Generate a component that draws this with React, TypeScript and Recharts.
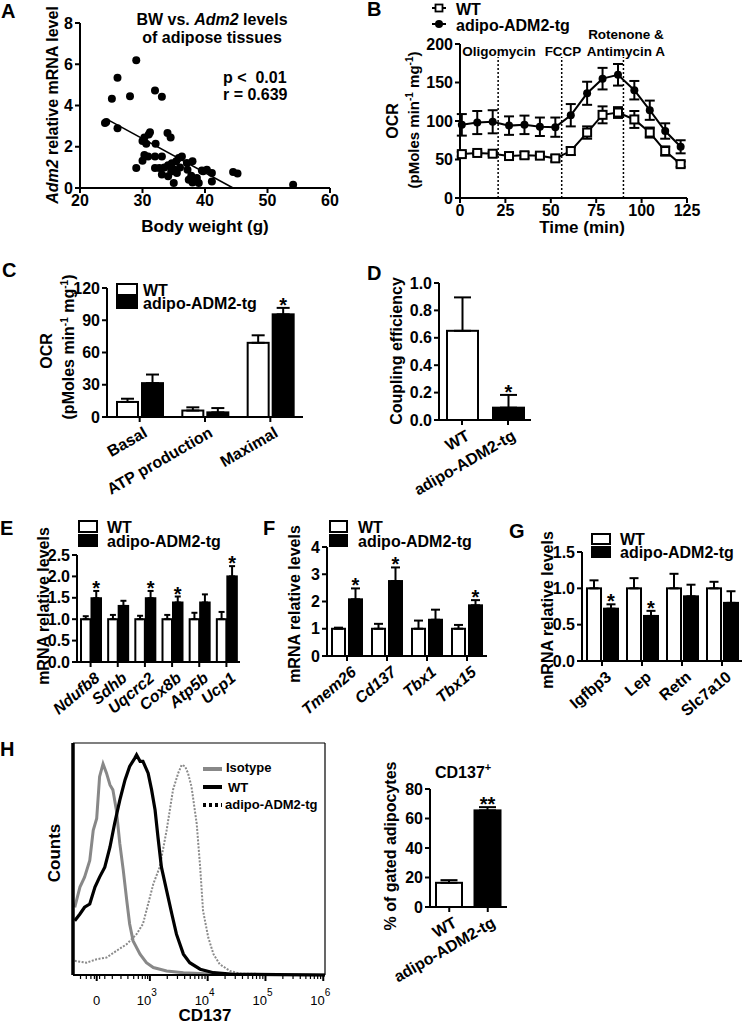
import React from 'react';
import {
  ScatterChart, Scatter, LineChart, Line, BarChart, Bar, XAxis, YAxis,
  ErrorBar, ReferenceLine,
} from 'recharts';

const FONT = '"Liberation Sans", Arial, Helvetica, sans-serif';

// ---- A: body weight vs Adm2 mRNA
const bodyWeight = [24.0, 24.2, 25.1, 26.0, 26.0, 28.0, 29.0, 29.0, 32.0, 33.1, 30.0, 30.3, 30.6, 31.0, 31.2, 32.1, 34.0, 34.5,
  30.0, 30.3, 30.9, 32.0, 33.1, 32.0, 32.7, 33.1, 34.1, 34.7, 34.1, 34.9, 35.0, 35.4, 35.8, 35.5, 36.3, 37.1, 38.0, 37.2,
  37.4, 38.0, 38.7, 39.0, 39.7, 40.3, 41.1, 41.1, 44.5, 45.2, 54.1, 35.0, 36.0, 33.5, 37.8, 39.5, 34.6];
const adm2Level = [3.15, 3.2, 4.33, 5.35, 2.9, 4.45, 6.19, 0.97, 4.73, 4.43, 2.28, 2.45, 2.15, 2.6, 2.7, 2.15, 2.67, 2.45,
  1.32, 1.6, 1.53, 1.53, 1.53, 0.97, 0.97, 0.65, 1.1, 1.2, 0.57, 0.89, 0.24, 1.3, 1.45, 0.73, 1.53, 1.21, 1.3, 0.89,
  0.4, 0.27, 0.48, 0.24, 0.81, 0.89, 0.73, 0.32, 0.78, 0.7, 0.16, 0.9, 1.0, 1.0, 0.6, 0.85, 0.8];
const fitStart = { x: 24.2, y: 3.35 };
const fitEnd = { x: 44.5, y: 0 };

// ---- B: OCR time course
const ocrTime = [1, 9.5, 18, 27, 35.5, 44, 52.5, 61, 70, 78.5, 87, 96, 104.5, 113, 121.5];
const ocrWT = [57, 58.5, 57.5, 54.5, 55.5, 55, 51.5, 61, 85, 108, 111, 102, 85, 61, 44];
const ocrWTErr = [3, 2, 2.5, 3.5, 4, 3, 4, 5, 8, 11, 7, 11, 6.5, 6, 3.5];
const ocrTG = [95, 98, 99, 94, 95, 92.5, 92, 107.5, 136, 155, 160, 140, 114, 87, 66.5];
const ocrTGErr = [14, 15, 15, 12, 12, 12, 12.5, 14.5, 15, 14, 14, 12, 12.5, 10, 8.5];
const injectTimes = [21, 56, 90];

// ---- C: OCR summary
const ocrGroups = ['Basal', 'ATP production', 'Maximal'];
const ocrSumWT = [14, 6, 69];
const ocrSumWTErr = [3, 3, 7];
const ocrSumTG = [31.5, 4.3, 95.5];
const ocrSumTGErr = [8, 4, 6];
const ocrSumSig = [false, false, true];

// ---- D: coupling efficiency
const coupleNames = ['WT', 'adipo-ADM2-tg'];
const coupleVals = [0.651, 0.09];
const coupleErr = [0.244, 0.093];
const coupleSig = [false, true];

// ---- E: mito genes
const genesE = ['Ndufb8', 'Sdhb', 'Uqcrc2', 'Cox8b', 'Atp5b', 'Ucp1'];
const wtE = [1, 1, 1, 1, 1, 1];
const wtErrE = [0.07, 0.1, 0.08, 0.1, 0.15, 0.17];
const tgE = [1.49, 1.31, 1.49, 1.39, 1.39, 2.0];
const tgErrE = [0.17, 0.12, 0.17, 0.14, 0.19, 0.24];
const sigE = [true, false, true, true, false, true];

// ---- F: beige genes
const genesF = ['Tmem26', 'Cd137', 'Tbx1', 'Tbx15'];
const wtF = [1, 1, 1, 1];
const wtErrF = [0.04, 0.18, 0.3, 0.14];
const tgF = [2.08, 2.75, 1.33, 1.86];
const tgErrF = [0.4, 0.5, 0.37, 0.19];
const sigF = [true, true, false, true];

// ---- G: white genes
const genesG = ['Igfbp3', 'Lep', 'Retn', 'Slc7a10'];
const wtG = [1, 1, 1, 1];
const wtErrG = [0.11, 0.14, 0.2, 0.09];
const tgG = [0.72, 0.62, 0.89, 0.8];
const tgErrG = [0.06, 0.07, 0.16, 0.16];
const sigG = [true, true, false, false];

// ---- H: flow histogram (x in decades of CD137 signal, y = % of max counts)
const isoX = [1.70, 1.79, 1.87, 1.96, 2.02, 2.08, 2.13, 2.19, 2.25, 2.31, 2.36, 2.42, 2.48, 2.54, 2.60, 2.65, 2.71, 2.83, 2.94, 3.06, 3.29, 3.58, 4.16, 6.03];
const isoY = [29.2, 37.9, 42.2, 49.4, 62.4, 67.5, 85.5, 91.0, 87.0, 81.9, 79.8, 71.1, 56.6, 45.1, 32.1, 22.0, 14.7, 9.0, 5.3, 3.2, 1.7, 1.0, 0.3, 0];
const wtHistX = [1.70, 1.79, 1.87, 1.96, 2.05, 2.13, 2.22, 2.31, 2.39, 2.48, 2.57, 2.65, 2.74, 2.77, 2.83, 2.88, 2.97, 3.03, 3.09, 3.14, 3.20, 3.29, 3.38, 3.46, 3.58, 3.69, 3.87, 4.10, 4.45, 6.03];
const wtHistY = [23.4, 26.3, 29.2, 30.6, 37.9, 42.2, 46.5, 55.2, 65.3, 75.4, 84.1, 89.9, 93.5, 94.9, 92.1, 92.1, 87.0, 79.8, 71.1, 59.5, 46.5, 36.4, 26.3, 17.6, 9.0, 5.3, 2.5, 1.0, 0.3, 0];
const tgHistX = [1.70, 1.90, 2.08, 2.25, 2.42, 2.60, 2.77, 2.88, 2.97, 3.06, 3.17, 3.29, 3.40, 3.49, 3.55, 3.61, 3.66, 3.72, 3.81, 3.87, 3.92, 4.01, 4.10, 4.21, 4.39, 4.56, 6.03];
const tgHistY = [6.1, 5.3, 6.8, 7.5, 10.4, 13.3, 17.6, 22.0, 30.6, 39.3, 46.5, 62.4, 79.8, 87.0, 90.6, 89.9, 87.0, 81.2, 65.3, 46.5, 27.7, 16.2, 9.0, 4.6, 1.7, 0.6, 0];
const flowMajor = [2.08, 3, 4, 5, 6];
const flowExp = ['', '3', '4', '5', '6'];
const flowLowMinor = [1.8, 1.9, 1.98, 2.04, 2.13, 2.22, 2.35, 2.5, 2.62, 2.72, 2.8, 2.87, 2.92, 2.96];

// ---- H right: CD137+ adipocytes
const cd137Names = ['WT', 'adipo-ADM2-tg'];
const cd137Vals = [16.4, 65.5];
const cd137Err = [1.8, 2.2];
const cd137Sig = [false, true];

const tickFont = { fontSize: 16, fontWeight: 700, fill: '#000', fontFamily: FONT };
const axisLn = { stroke: '#000', strokeWidth: 2 };
const bold = { fontFamily: FONT, fontWeight: 700, fill: '#000' };

const SlantTick = (p: any) => {
  const { x, y, payload, angle, italic } = p;
  const ax = x + 3;
  const ay = y + 2;
  return (
    <text x={ax} y={ay} dy="0.71em" textAnchor="end" transform={`rotate(${angle} ${ax} ${ay})`}
      fontSize={16} fontWeight={700} fontStyle={italic ? 'italic' : 'normal'} fontFamily={FONT} fill="#000">
      {payload.value}
    </text>
  );
};

// bar with optional significance mark above its error bar
const makeBar = (valKey: string, errKey: string, fill: string | null, mark: string, withSig: boolean) => (p: any) => {
  const row = p.payload;
  const v = row[valKey];
  const e = row[errKey][1];
  const top = v > 0 ? p.y - (e * p.height) / v : p.y;
  return (
    <g>
      <rect x={p.x} y={p.y} width={p.width} height={p.height} fill={fill || row.fill} stroke="#000" strokeWidth={2} />
      {withSig && row.sig && (
        <text x={p.x + p.width / 2} y={top + 4} textAnchor="middle" fontSize={20} {...bold}>{mark}</text>
      )}
    </g>
  );
};

const Pos: React.FC<{ l: number; t: number; children: React.ReactNode }> = ({ l, t, children }) => (
  <div style={{ position: 'absolute', left: l, top: t }}>{children}</div>
);

const PanelA = () => {
  const pts = bodyWeight.map((x, i) => ({ x, y: adm2Level[i] }));
  return (
    <Pos l={0} t={0}>
      <ScatterChart width={345} height={240} margin={{ top: 23, right: 15, bottom: 22, left: 40 }}>
        <XAxis type="number" dataKey="x" domain={[20, 60]} ticks={[20, 30, 40, 50, 60]} height={30} interval={0}
          tick={tickFont} axisLine={axisLn} tickLine={axisLn} tickSize={5} tickMargin={2} />
        <YAxis type="number" dataKey="y" domain={[0, 8]} ticks={[0, 2, 4, 6, 8]} width={40} interval={0}
          tick={tickFont} axisLine={axisLn} tickLine={axisLn} tickSize={5} tickMargin={2} />
        <ReferenceLine segment={[fitStart, fitEnd]} stroke="#000" strokeWidth={1.5} />
        <Scatter data={pts} isAnimationActive={false}
          shape={(p: any) => <circle cx={p.cx} cy={p.cy} r={4} fill="#000" />} />
      </ScatterChart>
    </Pos>
  );
};

const PanelB = () => {
  const rows = ocrTime.map((t, i) => ({ t, wt: ocrWT[i], wtErr: ocrWTErr[i], tg: ocrTG[i], tgErr: ocrTGErr[i] }));
  return (
    <Pos l={375} t={0}>
      <LineChart width={370} height={240} data={rows} margin={{ top: 44, right: 58, bottom: 12, left: 45 }}>
        <XAxis type="number" dataKey="t" domain={[0, 125]} ticks={[0, 25, 50, 75, 100, 125]} height={30} interval={0}
          tick={tickFont} axisLine={axisLn} tickLine={axisLn} tickSize={5} tickMargin={2} />
        <YAxis type="number" domain={[0, 200]} ticks={[0, 50, 100, 150, 200]} width={40} interval={0}
          tick={tickFont} axisLine={axisLn} tickLine={axisLn} tickSize={5} tickMargin={2} />
        {injectTimes.map((t) => (
          <ReferenceLine key={t} segment={[{ x: t, y: 0 }, { x: t, y: 183 }]} stroke="#000" strokeWidth={1.5} strokeDasharray="2 2" />
        ))}
        <Line dataKey="wt" type="linear" stroke="#000" strokeWidth={2} isAnimationActive={false}
          dot={(p: any) => <rect key={`w${p.index}`} x={p.cx - 4} y={p.cy - 4} width={8} height={8} fill="#fff" stroke="#000" strokeWidth={2} />}>
          <ErrorBar dataKey="wtErr" direction="y" width={5} stroke="#000" strokeWidth={2} />
        </Line>
        <Line dataKey="tg" type="linear" stroke="#000" strokeWidth={2} isAnimationActive={false}
          dot={(p: any) => <circle key={`t${p.index}`} cx={p.cx} cy={p.cy} r={4} fill="#000" />}>
          <ErrorBar dataKey="tgErr" direction="y" width={5} stroke="#000" strokeWidth={2} />
        </Line>
      </LineChart>
    </Pos>
  );
};

interface GroupProps {
  l: number; t: number; w: number; h: number;
  margin: { top: number; right: number; bottom: number; left: number };
  yWidth: number; domain: [number, number]; ticks: number[]; fmt?: (v: number) => string;
  cats: string[]; wt: number[]; wtErr: number[]; tg: number[]; tgErr: number[]; sig: boolean[];
  barSize: number; barGap: number; cap: number; angle: number; italic?: boolean;
}

const GroupBars = (g: GroupProps) => {
  const rows = g.cats.map((name, i) => ({
    name, wt: g.wt[i], wtE: [0, g.wtErr[i]], tg: g.tg[i], tgE: [0, g.tgErr[i]], sig: g.sig[i],
  }));
  return (
    <Pos l={g.l} t={g.t}>
      <BarChart width={g.w} height={g.h} data={rows} margin={g.margin} barSize={g.barSize} barGap={g.barGap}>
        <XAxis dataKey="name" height={40} interval={0} axisLine={axisLn} tickLine={axisLn} tickSize={5} tickMargin={2}
          tick={(p: any) => <SlantTick {...p} angle={g.angle} italic={g.italic} />} />
        <YAxis domain={g.domain} ticks={g.ticks} width={g.yWidth} tickFormatter={g.fmt} interval={0}
          tick={tickFont} axisLine={axisLn} tickLine={axisLn} tickSize={5} tickMargin={2} />
        <Bar dataKey="wt" isAnimationActive={false} shape={makeBar('wt', 'wtE', '#fff', '*', false)}>
          <ErrorBar dataKey="wtE" direction="y" width={g.cap} stroke="#000" strokeWidth={2} />
        </Bar>
        <Bar dataKey="tg" isAnimationActive={false} shape={makeBar('tg', 'tgE', '#000', '*', true)}>
          <ErrorBar dataKey="tgE" direction="y" width={g.cap} stroke="#000" strokeWidth={2} />
        </Bar>
      </BarChart>
    </Pos>
  );
};

interface PairProps {
  l: number; t: number; w: number; h: number;
  margin: { top: number; right: number; bottom: number; left: number };
  yWidth: number; domain: [number, number]; ticks: number[]; fmt?: (v: number) => string;
  names: string[]; vals: number[]; errs: number[]; sig: boolean[]; barSize: number; cap: number; mark: string;
}

const PairBars = (g: PairProps) => {
  const rows = g.names.map((name, i) => ({
    name, v: g.vals[i], e: [0, g.errs[i]], sig: g.sig[i], fill: i === 0 ? '#fff' : '#000',
  }));
  return (
    <Pos l={g.l} t={g.t}>
      <BarChart width={g.w} height={g.h} data={rows} margin={g.margin} barSize={g.barSize}>
        <XAxis dataKey="name" height={40} interval={0} axisLine={axisLn} tickLine={axisLn} tickSize={5} tickMargin={2}
          tick={(p: any) => <SlantTick {...p} angle={-30} />} />
        <YAxis domain={g.domain} ticks={g.ticks} width={g.yWidth} tickFormatter={g.fmt} interval={0}
          tick={tickFont} axisLine={axisLn} tickLine={axisLn} tickSize={5} tickMargin={2} />
        <Bar dataKey="v" isAnimationActive={false} shape={makeBar('v', 'e', null, g.mark, true)}>
          <ErrorBar dataKey="e" direction="y" width={g.cap} stroke="#000" strokeWidth={2} />
        </Bar>
      </BarChart>
    </Pos>
  );
};

const FlowTick = (p: any) => {
  const { x, y, payload } = p;
  const k = flowMajor.indexOf(payload.value);
  const major = k >= 0;
  return (
    <g>
      <line x1={x} x2={x} y1={y} y2={y + (major ? 6 : 4)} stroke="#000" strokeWidth={major ? 2 : 1.2} />
      {major && (
        <text x={k === 0 ? x : x - 3} y={y + 30} textAnchor="middle" fontSize={13} fontFamily={FONT} fill="#000">
          {k === 0 ? '0' : '10'}
          {k > 0 && <tspan dy={-9} fontSize={10}>{flowExp[k]}</tspan>}
        </text>
      )}
    </g>
  );
};

const PanelHist = () => {
  const iso = isoX.map((d, i) => ({ d, c: isoY[i] }));
  const wt = wtHistX.map((d, i) => ({ d, c: wtHistY[i] }));
  const tg = tgHistX.map((d, i) => ({ d, c: tgHistY[i] }));
  const logMinor = [3, 4, 5].flatMap((dec) => [2, 3, 4, 5, 6, 7, 8, 9].map((m) => dec + Math.log10(m)));
  const allTicks = [...flowLowMinor, ...flowMajor, ...logMinor].sort((a, b) => a - b);
  return (
    <Pos l={0} t={735}>
      <LineChart width={340} height={289} margin={{ top: 8, right: 15, bottom: 19, left: 63 }}>
        <XAxis type="number" dataKey="d" domain={[1.67, 6.03]} ticks={allTicks} interval={0} height={30}
          allowDataOverflow axisLine={axisLn} tickLine={false} tickSize={0} tickMargin={0} tick={FlowTick} />
        <YAxis type="number" domain={[0, 100]} width={10} tick={false} tickLine={false}
          axisLine={{ stroke: '#000', strokeWidth: 3.5 }} />
        <Line data={iso} dataKey="c" type="linear" stroke="#888" strokeWidth={3} dot={false} isAnimationActive={false} />
        <Line data={tg} dataKey="c" type="linear" stroke="#8a8a8a" strokeWidth={2} strokeDasharray="2 1.5" dot={false} isAnimationActive={false} />
        <Line data={wt} dataKey="c" type="linear" stroke="#000" strokeWidth={3.2} dot={false} isAnimationActive={false} />
      </LineChart>
    </Pos>
  );
};

const VLabel: React.FC<{ x: number; y: number; size?: number; children: React.ReactNode }> = ({ x, y, size = 16, children }) => (
  <text transform={`translate(${x},${y}) rotate(-90)`} textAnchor="middle" fontSize={size} {...bold}>{children}</text>
);

const unitText = (
  <>
    (pMoles min<tspan dy={-6} fontSize={10}>-1</tspan><tspan dy={6}> mg</tspan><tspan dy={-6} fontSize={10}>-1</tspan><tspan dy={6}>)</tspan>
  </>
);

const Legend2: React.FC<{ x: number; y: number; tx: number; gap: number; w: number; h: number }> = ({ x, y, tx, gap, w, h }) => (
  <g>
    <rect x={x} y={y} width={w} height={h} fill="#fff" stroke="#000" strokeWidth={2} />
    <rect x={x - 1} y={y + gap - 1} width={w + 2} height={h + 2} fill="#000" />
    <text x={tx} y={y + h + 1} fontSize={16} {...bold}>WT</text>
    <text x={tx} y={y + gap + h + 1} fontSize={16} {...bold}>adipo-ADM2-tg</text>
  </g>
);

const Overlay = () => (
  <svg width={745} height={1024} style={{ position: 'absolute', left: 0, top: 0, pointerEvents: 'none' }}>
    {/* panel letters */}
    <text x={1} y={18} fontSize={20} {...bold}>A</text>
    <text x={367} y={16} fontSize={20} {...bold}>B</text>
    <text x={2} y={277} fontSize={20} {...bold}>C</text>
    <text x={367} y={280} fontSize={20} {...bold}>D</text>
    <text x={0} y={535} fontSize={20} {...bold}>E</text>
    <text x={263} y={535} fontSize={20} {...bold}>F</text>
    <text x={509} y={538} fontSize={20} {...bold}>G</text>
    <text x={0} y={756} fontSize={20} {...bold}>H</text>

    {/* A */}
    <text x={212} y={25} textAnchor="middle" fontSize={16} {...bold}>BW vs. <tspan fontStyle="italic">Adm2</tspan> levels</text>
    <text x={212} y={43} textAnchor="middle" fontSize={16} {...bold}>of adipose tissues</text>
    <text x={223} y={83} fontSize={16} {...bold}>{'p <\u00a0 0.01'}</text>
    <text x={223} y={100} fontSize={16} {...bold}>r = 0.639</text>
    <text x={205} y={232} textAnchor="middle" fontSize={17} {...bold}>Body weight (g)</text>
    <VLabel x={58} y={105}><tspan fontStyle="italic">Adm2</tspan> relative mRNA level</VLabel>

    {/* B */}
    <line x1={432} x2={446} y1={8} y2={8} stroke="#000" strokeWidth={2} />
    <rect x={435.5} y={4.5} width={7} height={7} fill="#fff" stroke="#000" strokeWidth={1.8} />
    <text x={456} y={15} fontSize={16} {...bold}>WT</text>
    <line x1={432} x2={446} y1={24} y2={24} stroke="#000" strokeWidth={2} />
    <circle cx={439} cy={24} r={4} fill="#000" />
    <text x={456} y={31} fontSize={16} {...bold}>adipo-ADM2-tg</text>
    <text x={499} y={56} textAnchor="middle" fontSize={13.5} {...bold}>Oligomycin</text>
    <text x={563} y={56} textAnchor="middle" fontSize={13.5} {...bold}>FCCP</text>
    <text x={626} y={39} textAnchor="middle" fontSize={13.5} {...bold}>Rotenone &amp;</text>
    <text x={626} y={56} textAnchor="middle" fontSize={13.5} {...bold}>Antimycin A</text>
    <text x={582} y={233} textAnchor="middle" fontSize={17} {...bold}>Time (min)</text>
    <VLabel x={398} y={121}>OCR</VLabel>
    <VLabel x={419} y={120} size={15}>{unitText}</VLabel>

    {/* C */}
    <Legend2 x={117} y={284} tx={143} gap={13} w={20} h={11} />
    <VLabel x={52} y={351}>OCR</VLabel>
    <VLabel x={74} y={347}>{unitText}</VLabel>

    {/* D */}
    <VLabel x={402} y={351}>Coupling efficiency</VLabel>

    {/* E F G */}
    <Legend2 x={79} y={521} tx={107} gap={14} w={18} h={11} />
    <VLabel x={49} y={606}>mRNA relative levels</VLabel>
    <Legend2 x={330} y={521} tx={358} gap={14} w={17} h={11} />
    <VLabel x={300} y={604}>mRNA relative levels</VLabel>
    <Legend2 x={592} y={534} tx={620} gap={13} w={18} h={10} />
    <VLabel x={553} y={610}>mRNA relative levels</VLabel>

    {/* H histogram */}
    <line x1={73} x2={325} y1={743} y2={743} stroke="#000" strokeWidth={1.2} />
    <line x1={325} x2={325} y1={743} y2={975} stroke="#000" strokeWidth={1.2} />
    <line x1={203} x2={222} y1={769} y2={769} stroke="#888" strokeWidth={4} />
    <text x={226} y={772} fontSize={13} {...bold}>Isotype</text>
    <line x1={203} x2={222} y1={787} y2={787} stroke="#000" strokeWidth={4} />
    <text x={228} y={792} fontSize={13} {...bold}>WT</text>
    <line x1={203} x2={222} y1={805} y2={805} stroke="#000" strokeWidth={4} strokeDasharray="3 3" />
    <text x={225} y={809} fontSize={13} {...bold}>adipo-ADM2-tg</text>
    <VLabel x={60} y={853} size={17}>Counts</VLabel>
    <text x={205} y={1021} textAnchor="middle" fontSize={17} {...bold}>CD137</text>

    {/* H bars */}
    <text x={435} y={778} fontSize={16} {...bold}>CD137<tspan dy={-7} fontSize={11}>+</tspan></text>
    <VLabel x={396} y={846}>% of gated adipocytes</VLabel>
  </svg>
);

const App: React.FC = () => {
  const oneDec = (v: number) => v.toFixed(1);
  return (
    <div style={{ position: 'absolute', left: 0, top: 0, width: 745, height: 1024, background: '#fff', fontFamily: FONT }}>
      <PanelA />
      <PanelB />
      <GroupBars l={0} t={240} w={330} h={260} margin={{ top: 48, right: 27, bottom: 43, left: 67 }} yWidth={40}
        domain={[0, 120]} ticks={[0, 30, 60, 90, 120]} cats={ocrGroups} wt={ocrSumWT} wtErr={ocrSumWTErr}
        tg={ocrSumTG} tgErr={ocrSumTGErr} sig={ocrSumSig} barSize={21} barGap={4} cap={6.5} angle={-30} />
      <PairBars l={375} t={240} w={180} h={260} margin={{ top: 43, right: 24, bottom: 40, left: 19 }} yWidth={45}
        domain={[0, 1]} ticks={[0, 0.2, 0.4, 0.6, 0.8, 1.0]} fmt={oneDec} names={coupleNames} vals={coupleVals}
        errs={coupleErr} sig={coupleSig} barSize={31} cap={8.5} mark="*" />
      <GroupBars l={0} t={500} w={250} h={240} margin={{ top: 55, right: 10, bottom: 38, left: 42 }} yWidth={35}
        domain={[0, 2.5]} ticks={[0, 0.5, 1, 1.5, 2, 2.5]} fmt={oneDec} cats={genesE} wt={wtE} wtErr={wtErrE}
        tg={tgE} tgErr={tgErrE} sig={sigE} barSize={9.5} barGap={1} cap={3} angle={-40} italic />
      <GroupBars l={250} t={500} w={245} h={240} margin={{ top: 47, right: 8, bottom: 44, left: 47 }} yWidth={30}
        domain={[0, 4]} ticks={[0, 1, 2, 3, 4]} cats={genesF} wt={wtF} wtErr={wtErrF}
        tg={tgF} tgErr={tgErrF} sig={sigF} barSize={13} barGap={4} cap={4.5} angle={-40} italic />
      <GroupBars l={495} t={500} w={250} h={240} margin={{ top: 52, right: 3, bottom: 39, left: 47 }} yWidth={40}
        domain={[0, 1.5]} ticks={[0, 0.5, 1, 1.5]} fmt={oneDec} cats={genesG} wt={wtG} wtErr={wtErrG}
        tg={tgG} tgErr={tgErrG} sig={sigG} barSize={14} barGap={3} cap={4.5} angle={-40} />
      <PanelHist />
      <PairBars l={380} t={760} w={150} h={264} margin={{ top: 29, right: 23, bottom: 77, left: 20 }} yWidth={30}
        domain={[0, 80]} ticks={[0, 20, 40, 60, 80]} names={cd137Names} vals={cd137Vals}
        errs={cd137Err} sig={cd137Sig} barSize={26} cap={8.5} mark="**" />
      <Overlay />
    </div>
  );
};

export default App;
